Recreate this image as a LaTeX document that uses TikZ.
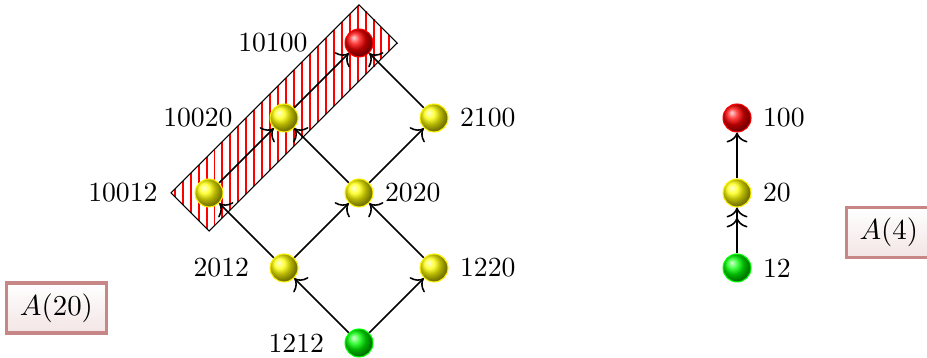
\documentclass[tikz,border=0pt]{standalone}
\usepackage{fontspec}
\usetikzlibrary{calc,arrows.meta}
\definecolor{boxrose}{RGB}{200,135,135}
\tikzset{
  ball/.style={circle,inner sep=0pt,minimum size=0.373cm,shading=ball,ball color=#1,draw=#1},
  lbl/.style={font=\fontsize{10.5}{12}\selectfont},
  namebox/.style={draw=boxrose,line width=1.2pt,top color=white,bottom color=boxrose!22,
    inner xsep=5pt,inner ysep=4pt,font=\fontsize{10.5}{12}\selectfont},
  edge/.style={semithick,-{To[scale=1.3]}}
}
\begin{document}
\begin{tikzpicture}
\useasboundingbox (0,0) rectangle (12.36,4.773);
% hatched chain, strip at 45 degrees between 10012 and 10100
\foreach \x in {2.33,2.436,...,5.3} {
  \pgfmathsetmacro\ybot{max(2.2-(\x-2.28),\x-1.094)}
  \pgfmathsetmacro\ytop{min(2.2+(\x-2.28),4.707-(\x-4.787))}
  \draw[red,line width=0.75pt] (\x,\ybot) -- (\x,\ytop);
}
\coordinate (c10012) at (2.787,2.2);
\coordinate (c10100) at (4.787,4.2);
\draw ($(c10012)+(-0.507,0)$) -- ($(c10012)+(0,-0.507)$) --
  ($(c10100)+(0.507,0)$) -- ($(c10100)+(0,0.507)$) -- cycle;
% lattice A(20)
\node[ball=green,label={[lbl,label distance=0.15cm]left:1212}] (n1212) at (4.787,0.2) {};
\node[ball=yellow,label={[lbl,label distance=0.15cm]left:2012}] (n2012) at (3.787,1.2) {};
\node[ball=yellow,label={[lbl,label distance=0.03cm]right:1220}] (n1220) at (5.787,1.2) {};
\node[ball=yellow,label={[lbl,label distance=0.37cm]left:10012}] (n10012) at (c10012) {};
\node[ball=yellow,label={[lbl,label distance=0.03cm]right:2020}] (n2020) at (4.787,2.2) {};
\node[ball=yellow,label={[lbl,label distance=0.37cm]left:10020}] (n10020) at (3.787,3.2) {};
\node[ball=yellow,label={[lbl,label distance=0.03cm]right:2100}] (n2100) at (5.787,3.2) {};
\node[ball=red,label={[lbl,label distance=0.37cm]left:10100}] (n10100) at (c10100) {};
\foreach \a/\b in {1212/2012,1212/1220,2012/10012,2012/2020,1220/2020,
  2020/10020,2020/2100,10012/10020,10020/10100,2100/10100}
  \draw[edge] (n\a) -- (n\b);
\node[namebox] (a20) at (0.753,0.667) {$A(20)$};
% chain A(4)
\node[ball=green,label={[lbl,label distance=0.03cm]right:12}] (m12) at (9.827,1.2) {};
\node[ball=yellow,label={[lbl,label distance=0.03cm]right:20}] (m20) at (9.827,2.2) {};
\node[ball=red,label={[lbl,label distance=0.03cm]right:100}] (m100) at (9.827,3.2) {};
\draw[semithick,-{To[scale=1.3] To[scale=1.3]}] (m12) -- (m20);
\draw[edge] (m20) -- (m100);
\node[namebox] (a4) at (11.85,1.673) {$A(4)$};
\end{tikzpicture}
\end{document}
